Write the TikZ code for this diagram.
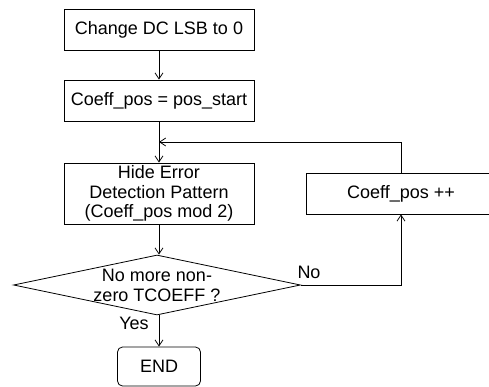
\documentclass[tikz,border=0pt]{standalone}
\usepackage{fontspec}
\setmainfont{Liberation Sans}
\usetikzlibrary{arrows.meta,shapes.geometric}
\tikzset{>={Straight Barb[length=6pt,width=8pt]}}
\tikzset{
	flowbox/.style={draw, line width=.8pt, inner sep=0pt, minimum width=190pt, align=center},
	endbox/.style={flowbox, rounded corners=5pt, minimum width=83pt, minimum height=39pt},
	flowline/.style={line width=.8pt, ->}
}
\newcommand{\flowfont}{\fontsize{18}{19.5}\selectfont}

\begin{document}
\begin{tikzpicture}[x=1pt, y=-1pt, font=\flowfont]
    \useasboundingbox (0, 0) rectangle (489, 387);
    \node[flowbox, minimum height=41pt](lsb)at(159, 29.5){Change DC LSB to 0};
    \node[flowbox, minimum height=41pt](start)at(159, 100.5){Coeff\_pos = pos\_start};
    \node[flowbox, minimum height=61pt](hide)at(159, 193.5){Hide Error\\Detection Pattern\\(Coeff\_pos mod 2)};
    \node[flowbox, minimum height=41pt](inc)at(401, 193.5){Coeff\_pos ++};
    % decision diamond, text set on top of it
    \node[diamond, draw, line width=.8pt, inner sep=0pt, minimum width=287pt, minimum height=60pt](dec)at(157, 285){};
    \node[align=center, font=\fontsize{18}{20}\selectfont](dectext)at(dec){No more non-\\zero TCOEFF ?};
    \node[endbox](end)at(159, 366.5){END};
    \coordinate(join)at(159, 142);
    \draw[flowline](lsb)--(start);
    \draw[flowline](start)--(hide);
    \draw[flowline](inc.north)|-(join);
    \draw[flowline](hide.south)--(hide.south|-dec.north);
    \draw[flowline](dec.east)-|(inc.south);
    \draw[flowline](hide.south|-dec.south)--(end);
    \node(nolabel)at(309, 272){No};
    \node(yeslabel)at(134, 323){Yes};
\end{tikzpicture}
\end{document}
